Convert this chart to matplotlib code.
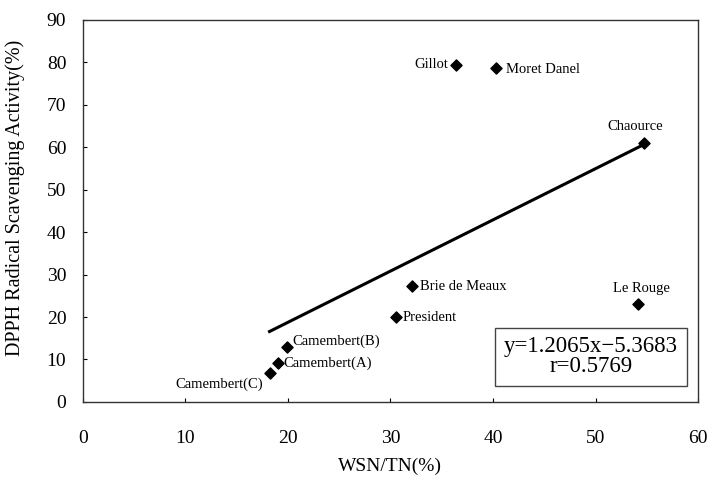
import matplotlib
matplotlib.use("Agg")
import matplotlib.pyplot as plt
import numpy as np

# Cheese samples: water-soluble nitrogen ratio vs DPPH scavenging activity
samples = ["Camembert(C)", "Camembert(A)", "Camembert(B)", "President",
           "Brie de Meaux", "Gillot", "Moret Danel", "Chaource", "Le Rouge"]
wsn_tn = [18.2, 19.0, 19.9, 30.5, 32.1, 36.4, 40.3, 54.7, 54.1]
dpph = [6.8, 9.1, 13.0, 20.0, 27.3, 79.4, 78.6, 61.0, 23.1]

# Linear fit reported for the data
slope, intercept, r_value = 1.2065, -5.3683, 0.5769

x_ticks = [0, 10, 20, 30, 40, 50, 60]
y_ticks = [0, 10, 20, 30, 40, 50, 60, 70, 80, 90]

# label placement: (dx points, dy points, ha, va)
label_pos = {
    "Camembert(C)": (-5, -8, "right", "center"),
    "Camembert(A)": (4, 0, "left", "center"),
    "Camembert(B)": (4, 4, "left", "center"),
    "President": (5, 0, "left", "center"),
    "Brie de Meaux": (6, 0, "left", "center"),
    "Gillot": (-6, 0, "right", "center"),
    "Moret Danel": (7, -1, "left", "center"),
    "Chaource": (-6, 12, "center", "center"),
    "Le Rouge": (3, 11, "center", "center"),
}

plt.rcParams["font.family"] = ["Liberation Serif", "DejaVu Serif"]

fig = plt.figure(figsize=(7.09, 4.86), dpi=100)
ax = fig.add_axes([0.117, 0.173, 0.8675, 0.786])

ax.scatter(wsn_tn, dpph, marker="D", s=32, color="black", zorder=3)

x_fit = np.array([min(wsn_tn), max(wsn_tn)])
ax.plot(x_fit, slope * x_fit + intercept, color="black", lw=2.2, zorder=2)

for name, x, y in zip(samples, wsn_tn, dpph):
    dx, dy, ha, va = label_pos[name]
    ax.annotate(name, (x, y), xytext=(dx, dy), textcoords="offset points",
                ha=ha, va=va, fontsize=10.5)

ax.text(0.826, 0.118,
        f"y={slope:.4f}x\u2212{abs(intercept):.4f}\nr={r_value:.4f}",
        transform=ax.transAxes, ha="center", va="center", fontsize=16.5,
        linespacing=0.95,
        bbox=dict(boxstyle="square,pad=0.38", fc="white", ec="#444444", lw=1.0))

ax.set_xlim(0, 60)
ax.set_ylim(0, 90)
ax.set_xticks(x_ticks)
ax.set_yticks(y_ticks)
ax.tick_params(direction="in", length=3, width=0.8, labelsize=14)
ax.tick_params(axis="x", pad=20)
ax.tick_params(axis="y", pad=12)
for sp in ax.spines.values():
    sp.set_linewidth(1.0)
    sp.set_color("#333333")

ax.set_xlabel("WSN/TN(%)", fontsize=14, labelpad=8)
ax.set_ylabel("DPPH Radical Scavenging Activity(%)", fontsize=14.5)
ax.yaxis.set_label_coords(-0.095, 0.535)

fig.savefig("out.png", dpi=100, facecolor="white")
